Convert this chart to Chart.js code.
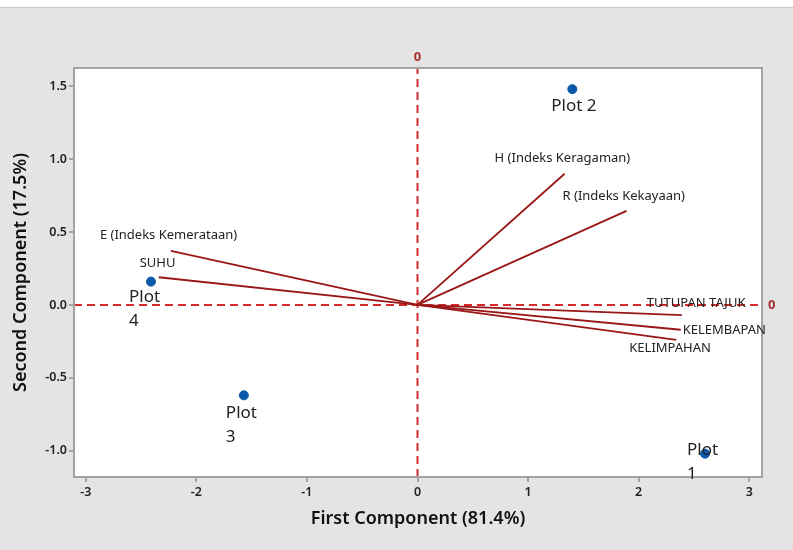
<!DOCTYPE html>
<html>
<head>
<meta charset="utf-8">
<script src="https://cdn.jsdelivr.net/npm/chart.js@4.4.1/dist/chart.umd.min.js"></script>
<style>
  html, body { margin: 0; padding: 0; background: #e4e4e4; }
  #strip { position: absolute; left: 0; top: 0; width: 793px; height: 7px; background: #fff; border-bottom: 1px solid #c8c8c8; }
  #wrap { position: absolute; left: 0; top: 0; width: 793px; height: 550px; }
</style>
</head>
<body>
<div id="strip"></div>
<div id="wrap"><canvas id="biplot" width="793" height="550"></canvas></div>
<script>
// observations (scores)
const plotNames = ['Plot 1', 'Plot 2', 'Plot 3', 'Plot 4'];
const plotX = [2.60, 1.40, -1.57, -2.41];
const plotY = [-1.02, 1.48, -0.62, 0.16];

// variable loadings (vectors from origin)
const varNames = ['H (Indeks Keragaman)', 'R (Indeks Kekayaan)', 'E (Indeks Kemerataan)', 'SUHU',
                  'TUTUPAN TAJUK', 'KELEMBAPAN', 'KELIMPAHAN'];
const varX = [1.33, 1.89, -2.23, -2.34, 2.39, 2.38, 2.34];
const varY = [0.90, 0.645, 0.37, 0.19, -0.07, -0.17, -0.24];

// axes
const xTicks = [-3, -2, -1, 0, 1, 2, 3];
const yTicks = [-1.0, -0.5, 0.0, 0.5, 1.0, 1.5];
const xRange = [-3.106, 3.115];
const yRange = [-1.18, 1.625];
const xTitle = 'First Component (81.4%)';
const yTitle = 'Second Component (17.5%)';

// label placement (pixels, text left edge / first line middle, relative to the mark)
const plotLabelOffset = {
    'Plot 1': [-18, -4],
    'Plot 2': [-21, 17],
    'Plot 3': [-18, 18],
    'Plot 4': [-22, 16]
};
const varLabelOffset = [[-70, -15], [-64, -15], [-71, -16], [-19, -14], [-35, -12], [2, 1], [-47, 8]];

const FONT = "'Segoe UI', 'Noto Sans', sans-serif";
const refColor = '#d42a2a';
const vecColor = '#9a1717';
const dotColor = '#0a58a8';
const frameColor = '#a3a3a3';

const vectorSets = varNames.map((name, i) => ({
    label: name,
    data: [{ x: 0, y: 0 }, { x: varX[i], y: varY[i] }],
    showLine: true,
    borderColor: vecColor,
    borderWidth: 1.8,
    pointRadius: 0,
    order: 2
}));

const biplotLabels = {
    id: 'biplotLabels',
    beforeDraw(chart) {
        const { ctx, chartArea: a } = chart;
        ctx.save();
        ctx.fillStyle = '#ffffff';
        ctx.fillRect(a.left, a.top, a.right - a.left, a.bottom - a.top);
        ctx.restore();
    },
    afterDatasetsDraw(chart) {
        const { ctx, chartArea: a, scales: { x, y } } = chart;
        ctx.save();
        ctx.strokeStyle = frameColor;
        ctx.lineWidth = 2;
        ctx.strokeRect(a.left, a.top, a.right - a.left, a.bottom - a.top);

        ctx.textAlign = 'left';
        ctx.textBaseline = 'middle';
        ctx.fillStyle = '#222';
        ctx.font = '13px ' + FONT;
        varNames.forEach((name, i) => {
            const off = varLabelOffset[i];
            ctx.fillText(name, x.getPixelForValue(varX[i]) + off[0], y.getPixelForValue(varY[i]) + off[1]);
        });

        ctx.font = '17px ' + FONT;
        plotNames.forEach((name, i) => {
            const off = plotLabelOffset[name];
            const px = x.getPixelForValue(plotX[i]) + off[0];
            const py = y.getPixelForValue(plotY[i]) + off[1];
            const parts = name === 'Plot 2' ? [name] : name.split(' ');
            parts.forEach((t, k) => ctx.fillText(t, px, py + k * 24));
        });

        // reference line labels
        ctx.fillStyle = '#a33030';
        ctx.font = 'bold 13px ' + FONT;
        ctx.textAlign = 'center';
        ctx.fillText('0', x.getPixelForValue(0), a.top - 11);
        ctx.textAlign = 'left';
        ctx.fillText('0', a.right + 6, y.getPixelForValue(0));
        ctx.restore();
    }
};

const ctx = document.getElementById('biplot').getContext('2d');
new Chart(ctx, {
    type: 'scatter',
    data: {
        datasets: [
            {
                label: 'Scores',
                data: plotX.map((v, i) => ({ x: v, y: plotY[i] })),
                backgroundColor: dotColor,
                borderColor: dotColor,
                pointRadius: 4.5,
                order: 1
            },
            ...vectorSets,
            {
                label: 'ref x',
                data: [{ x: 0, y: yRange[0] }, { x: 0, y: yRange[1] }],
                showLine: true,
                borderColor: refColor,
                borderWidth: 2,
                borderDash: [8, 5],
                pointRadius: 0,
                order: 3
            },
            {
                label: 'ref y',
                data: [{ x: xRange[0], y: 0 }, { x: xRange[1], y: 0 }],
                showLine: true,
                borderColor: refColor,
                borderWidth: 2,
                borderDash: [8, 5],
                pointRadius: 0,
                order: 3
            }
        ]
    },
    options: {
        responsive: false,
        animation: false,
        layout: { padding: { top: 68, right: 31, left: 0, bottom: 0 } },
        plugins: {
            legend: { display: false },
            tooltip: { enabled: false }
        },
        scales: {
            x: {
                type: 'linear',
                min: xRange[0],
                max: xRange[1],
                afterBuildTicks: s => { s.ticks = xTicks.map(v => ({ value: v })); },
                afterFit: s => { s.height = 73; },
                ticks: {
                    color: '#222',
                    padding: 3,
                    font: { family: FONT, size: 12.5, weight: '600' },
                    callback: v => String(v)
                },
                grid: { drawOnChartArea: false, drawTicks: true, tickLength: 5, color: frameColor, lineWidth: 2 },
                border: { display: true, color: frameColor, width: 2 },
                title: {
                    display: true,
                    text: xTitle,
                    color: '#111',
                    font: { family: FONT, size: 18, weight: '600' },
                    padding: { top: 0, bottom: 20 }
                }
            },
            y: {
                type: 'linear',
                min: yRange[0],
                max: yRange[1],
                afterBuildTicks: s => { s.ticks = yTicks.map(v => ({ value: v })); },
                afterFit: s => { s.width = 74; },
                ticks: {
                    color: '#222',
                    padding: 2,
                    font: { family: FONT, size: 12.5, weight: '600' },
                    callback: v => v.toFixed(1)
                },
                grid: { drawOnChartArea: false, drawTicks: true, tickLength: 5, color: frameColor, lineWidth: 2 },
                border: { display: true, color: frameColor, width: 2 },
                title: {
                    display: true,
                    text: yTitle,
                    color: '#111',
                    font: { family: FONT, size: 18, weight: '600' },
                    padding: { top: 10, bottom: 0 }
                }
            }
        }
    },
    plugins: [biplotLabels]
});
</script>
</body>
</html>
